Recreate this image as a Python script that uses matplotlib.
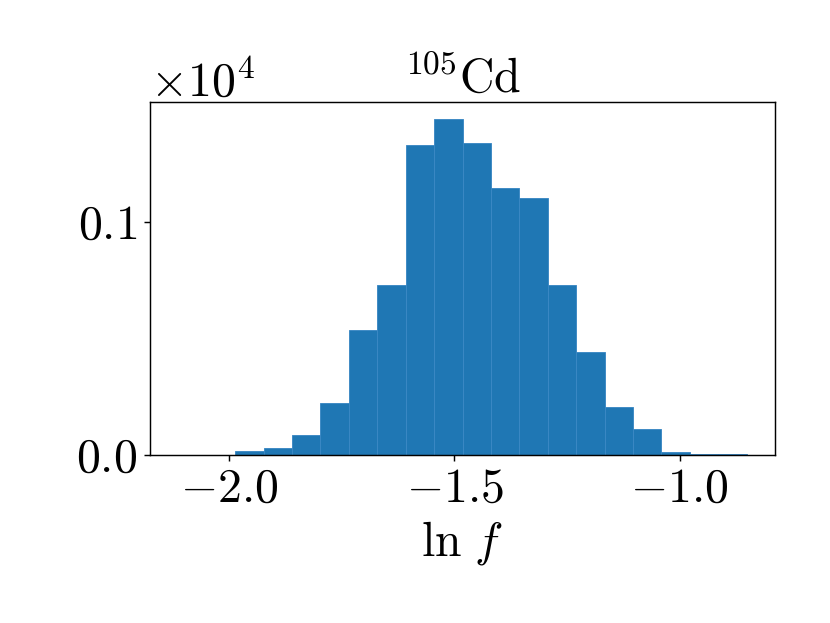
import numpy as np
import matplotlib
matplotlib.use("Agg")
import matplotlib.pyplot as plt
from matplotlib.ticker import ScalarFormatter

plt.rcParams['font.family'] = 'serif'
plt.rcParams['font.serif'] = ['cmr10', 'DejaVu Serif']
plt.rcParams['mathtext.fontset'] = 'cm'
plt.rcParams['axes.formatter.use_mathtext'] = True
plt.rcParams['axes.unicode_minus'] = True

# Histogram data (counts per bin), bin range in ln f
bin_lo = -2.1128
bin_hi = -0.8514
counts = [0, 0, 16, 32, 84, 221, 534, 728, 1327, 1441,
          1338, 1145, 1102, 728, 442, 204, 110, 14, 4, 4]
yticks = [0, 1000]
xticks = [-2.0, -1.5, -1.0]
title = r'$^{105}$Cd'
xlabel = r'$\ln\,f$'

edges = np.linspace(bin_lo, bin_hi, len(counts) + 1)
centers = 0.5 * (edges[:-1] + edges[1:])

FS = 26.5
W, H = 830, 623
fig = plt.figure(figsize=(W/130, H/130), dpi=130)
ax = fig.add_axes([150/W, 1 - 455/H, (775-150)/W, (455-102)/H])
ax.hist(centers, bins=edges, weights=counts, color='#1f77b4',
        edgecolor='#3b88c4', linewidth=0.5)
ax.set_xticks(xticks)
ax.set_yticks(yticks)
fmt = ScalarFormatter(useMathText=True)
fmt.set_powerlimits((4, 4))
ax.yaxis.set_major_formatter(fmt)
ax.tick_params(labelsize=FS)
ax.yaxis.get_offset_text().set_fontsize(FS)
ax.set_xlabel(xlabel, fontsize=FS, labelpad=4)
ax.set_title(title, fontsize=FS, pad=5)
fig.savefig('out.png', dpi=130)
